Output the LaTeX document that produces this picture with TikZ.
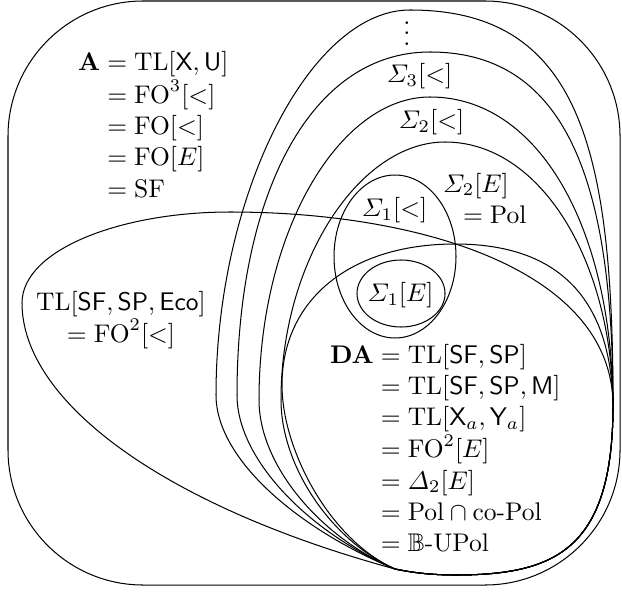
\documentclass[tikz,border=0pt]{standalone}
\usepackage{amsmath,amssymb}
\begin{document}
\begin{tikzpicture}[x=0.3922pt,y=-0.3922pt,
  lbl/.style={inner sep=0pt, outer sep=0pt, font=\fontsize{10}{12.3}\selectfont},
  region/.style={draw=black, line width=0.4pt}]
\useasboundingbox (0,0) rectangle (622,591);
\coordinate (P) at (395,569);
\coordinate (R) at (613,405);
\coordinate (B) at (455,575);
% outer frame
\draw[region, rounded corners=53pt] (8,1) rectangle (620,585);
% TL[SF,SP,Eco]
\draw[region] (P) .. controls (160,505) and (22,400) .. (22,303)
  .. controls (22,250) and (120,212) .. (230,212)
  .. controls (420,212) and (612,270) .. (R)
  .. controls (613,550) and (555,575) .. (B)
  .. controls (425,575) and (405,571) .. (P);
% vdots region
\draw[region] (P) .. controls (300,530) and (216,460) .. (216,395)
  .. controls (216,195) and (310,10) .. (410,10)
  .. controls (580,10) and (613,150) .. (R)
  .. controls (613,550) and (555,575) .. (B)
  .. controls (425,575) and (405,571) .. (P);
% Sigma3[<]
\draw[region] (P) .. controls (310,533) and (237,460) .. (237,395)
  .. controls (237,195) and (310,52) .. (430,52)
  .. controls (570,52) and (613,190) .. (R)
  .. controls (613,550) and (555,575) .. (B)
  .. controls (425,575) and (405,571) .. (P);
% Sigma2[<]
\draw[region] (P) .. controls (320,537) and (259,465) .. (259,400)
  .. controls (259,230) and (340,97) .. (430,97)
  .. controls (540,97) and (612,230) .. (R)
  .. controls (613,550) and (555,575) .. (B)
  .. controls (425,575) and (405,571) .. (P);
% Sigma2[E]
\draw[region] (P) .. controls (330,540) and (281,465) .. (281,400)
  .. controls (281,260) and (360,142) .. (445,142)
  .. controls (540,142) and (612,260) .. (R)
  .. controls (613,550) and (555,575) .. (B)
  .. controls (425,575) and (405,571) .. (P);
% DA
\draw[region] (P) .. controls (330,540) and (282,450) .. (282,385)
  .. controls (282,300) and (350,244) .. (455,244)
  .. controls (560,244) and (611,300) .. (R)
  .. controls (613,550) and (555,575) .. (B)
  .. controls (425,575) and (405,571) .. (P);
% Sigma1 ellipses
\draw[region] (395,256.5) ellipse [x radius=23.92pt, y radius=31.96pt];
\draw[region] (401,293.5) ellipse [x radius=17.26pt, y radius=13.14pt];
% labels
\node[lbl, anchor=base west] (A) at (78,71) {\begin{tabular}[t]{@{}r@{}l@{}}
  $\mathbf{A}$ & ${}=\mathrm{TL}[\mathsf{X},\mathsf{U}]$\\
  & ${}=\mathrm{FO}^3[<]$\\
  & ${}=\mathrm{FO}[<]$\\
  & ${}=\mathrm{FO}[E]$\\
  & ${}=\mathrm{SF}$
\end{tabular}};
\node[lbl, anchor=base] (eco) at (121,310) {\begin{tabular}[t]{@{}c@{}}
  $\mathrm{TL}[\mathsf{SF},\mathsf{SP},\mathsf{Eco}]$\\
  $=\mathrm{FO}^2[<]$
\end{tabular}};
\node[lbl, anchor=base west] (DA) at (330,363) {\begin{tabular}[t]{@{}r@{}l@{}}
  $\mathbf{DA}$ & ${}=\mathrm{TL}[\mathsf{SF},\mathsf{SP}]$\\
  & ${}=\mathrm{TL}[\mathsf{SF},\mathsf{SP},\mathsf{M}]$\\
  & ${}=\mathrm{TL}[\mathsf{X}_a,\mathsf{Y}_a]$\\
  & ${}=\mathrm{FO}^2[E]$\\
  & ${}=\varDelta_2[E]$\\
  & ${}=\mathrm{Pol}\cap\text{co-Pol}$\\
  & ${}=\mathbb{B}\text{-UPol}$
\end{tabular}};
\node[lbl] (dots) at (407,26) {$\vdots$};
\node[lbl] (s3) at (419.5,76.5) {$\varSigma_3[<]$};
\node[lbl] (s2) at (431.5,122.5) {$\varSigma_2[<]$};
\node[lbl, anchor=base west] (s2e) at (443,192) {\begin{tabular}[t]{@{}l@{}}
  $\varSigma_2[E]$\\
  \hspace{7.84pt}$=\mathrm{Pol}$
\end{tabular}};
\node[lbl] (s1) at (394.5,210) {$\varSigma_1[<]$};
\node[lbl] (s1e) at (400.5,295.5) {$\varSigma_1[E]$};
\end{tikzpicture}
\end{document}
